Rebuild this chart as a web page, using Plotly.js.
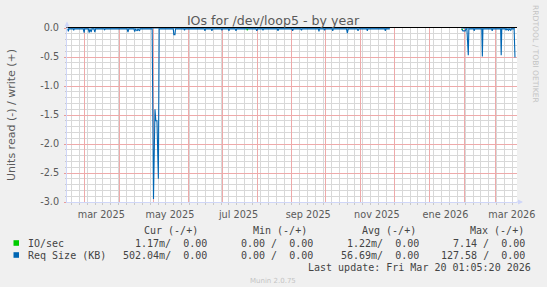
<!DOCTYPE html>
<html><head><meta charset="utf-8">
<script src="https://cdn.plot.ly/plotly-3.0.1.min.js"></script>
<style>html,body{margin:0;padding:0;background:#F0F0F0;overflow:hidden;}</style>
</head><body><div id="chart" style="width:547px;height:287px;"></div>
<script>
// ---- data ----
const rangeStart = '2025-02-13 01:05:20';
const rangeEnd   = '2026-03-20 01:05:20';

const reqDates = [
 '2025-02-13 18:00','2025-02-14 06:00','2025-02-14 18:00','2025-02-18 12:00','2025-02-19 00:00','2025-02-19 12:00',
 '2025-02-27 12:00','2025-02-28 06:00','2025-02-28 18:00','2025-03-04 00:00','2025-03-04 18:00','2025-03-05 12:00',
 '2025-03-06 12:00','2025-03-07 06:00','2025-03-09 00:00','2025-03-09 18:00','2025-03-10 12:00','2025-03-18 00:00',
 '2025-03-18 12:00','2025-03-19 00:00','2025-04-07 12:00','2025-04-08 06:00','2025-04-09 00:00','2025-04-13 12:00',
 '2025-04-14 06:00','2025-04-15 00:00','2025-04-16 12:00','2025-04-17 00:00','2025-04-18 12:00','2025-04-19 00:00',
 '2025-04-29 18:00','2025-04-30 06:00','2025-04-30 22:00','2025-05-02 06:00','2025-05-03 00:00','2025-05-04 00:00',
 '2025-05-04 18:00','2025-05-05 06:00','2025-05-06 00:00',
 '2025-05-18 12:00','2025-05-19 00:00','2025-05-20 00:00','2025-05-20 12:00','2025-05-28 00:00','2025-05-28 12:00',
 '2025-05-29 00:00','2025-06-15 00:00','2025-06-15 16:00','2025-06-16 06:00','2025-06-21 06:00','2025-06-21 20:00',
 '2025-06-22 12:00','2025-06-30 06:00','2025-06-30 18:00','2025-07-01 06:00','2025-07-06 12:00','2025-07-07 00:00',
 '2025-07-07 12:00','2025-07-12 12:00','2025-07-13 06:00','2025-07-14 00:00','2025-07-31 00:00','2025-07-31 18:00',
 '2025-08-01 12:00','2025-08-05 18:00','2025-08-06 06:00','2025-08-06 18:00','2025-08-19 00:00','2025-08-19 14:00',
 '2025-08-20 06:00','2025-09-01 00:00','2025-09-01 14:00','2025-09-02 06:00','2025-09-08 18:00','2025-09-09 12:00',
 '2025-09-10 00:00','2025-09-24 12:00','2025-09-25 00:00','2025-09-25 12:00','2025-09-29 12:00','2025-09-30 00:00',
 '2025-09-30 12:00','2025-10-06 18:00','2025-10-07 06:00','2025-10-07 18:00','2025-10-19 12:00','2025-10-20 06:00',
 '2025-10-21 00:00','2025-10-29 00:00','2025-10-29 18:00','2025-10-30 12:00','2025-11-06 12:00','2025-11-07 00:00',
 '2025-11-07 12:00','2025-11-22 12:00','2025-11-23 00:00','2025-11-23 12:00','2025-11-27 00:00',
 '2025-12-20 00:00',
 '2026-01-29 18:00','2026-01-31 00:00','2026-02-02 00:00','2026-02-02 18:00','2026-02-03 12:00','2026-02-04 06:00',
 '2026-02-04 18:00','2026-02-05 06:00','2026-02-09 12:00','2026-02-10 00:00','2026-02-10 12:00','2026-02-16 18:00',
 '2026-02-17 06:00','2026-02-17 18:00','2026-02-25 12:00','2026-02-26 00:00','2026-02-26 12:00','2026-03-05 12:00',
 '2026-03-06 00:00','2026-03-06 12:00','2026-03-09 18:00','2026-03-10 06:00','2026-03-11 00:00','2026-03-12 12:00',
 '2026-03-13 00:00','2026-03-14 12:00','2026-03-15 00:00','2026-03-17 12:00','2026-03-18 06:00'
];
const reqRead = [
 -0.015,-0.06,-0.015,-0.015,-0.04,-0.015,
 -0.015,-0.08,-0.015,-0.015,-0.08,-0.02,
 -0.07,-0.015,-0.015,-0.07,-0.015,-0.015,
 -0.03,-0.015,-0.015,-0.07,-0.015,-0.015,
 -0.06,-0.02,-0.05,-0.015,-0.05,-0.015,
 -0.015,-2.95,-2.95,-1.4,-1.6,-1.6,
 -2.6,-2.6,-0.015,
 -0.015,-0.115,-0.115,-0.015,-0.015,-0.04,
 -0.015,-0.015,-0.05,-0.015,-0.015,-0.05,
 -0.015,-0.015,-0.04,-0.015,-0.015,-0.05,
 -0.015,-0.015,-0.05,-0.015,-0.015,-0.05,
 -0.015,-0.015,-0.04,-0.015,-0.015,-0.05,
 -0.015,-0.015,-0.05,-0.015,-0.015,-0.04,
 -0.015,-0.015,-0.06,-0.015,-0.015,-0.04,
 -0.015,-0.015,-0.05,-0.015,-0.015,-0.09,
 -0.015,-0.015,-0.05,-0.015,-0.015,-0.05,
 -0.015,-0.015,-0.05,-0.015,-0.015,
 null,
 -0.015,-0.05,-0.05,-0.015,-0.015,-0.47,
 -0.47,-0.015,-0.015,-0.05,-0.015,-0.015,
 -0.49,-0.015,-0.015,-0.05,-0.015,-0.015,
 -0.47,-0.015,-0.015,-0.04,-0.015,-0.04,
 -0.015,-0.04,-0.015,-0.015,-0.51
];
// write (+) side is 0.00 throughout (per legend)
const writeDates = ['2025-02-13 18:00','2025-11-27 00:00','2025-12-20 00:00','2026-01-29 18:00','2026-03-18 06:00'];
const writeVals  = [0, 0, null, 0, 0];
const ioDates = ['2025-07-22 20:00','2025-07-23 08:00','2025-07-23 20:00','2025-10-01 00:00','2026-01-30 00:00','2026-01-30 12:00','2026-01-31 00:00'];
const ioRead  = [-0.015,-0.04,-0.015,null,-0.015,-0.03,-0.015];

const monthStarts = ['2025-03-01','2025-04-01','2025-05-01','2025-06-01','2025-07-01','2025-08-01','2025-09-01',
  '2025-10-01','2025-11-01','2025-12-01','2026-01-01','2026-02-01','2026-03-01'];
const labelDates = ['2025-03-15 12:00','2025-05-15 12:00','2025-07-15 12:00','2025-09-15 12:00','2025-11-15 12:00','2026-01-15 12:00','2026-03-15 12:00'];
const monthLabels = ['mar 2025','may 2025','jul 2025','sep 2025','nov 2025','ene 2026','mar 2026'];
const yTicks = [0,-0.5,-1,-1.5,-2,-2.5,-3];
const yTickText = ['0.0','-0.5','-1.0','-1.5','-2.0','-2.5','-3.0'];

const seriesNames = ['IO/sec','Req Size (KB)'];
const seriesColors = ['#00CC00','#0066B3'];
const statHeaders = ['Cur (-/+)','Min (-/+)','Avg (-/+)','Max (-/+)'];
const statIO  = ['1.17m/  0.00','0.00 /  0.00','1.22m/  0.00','7.14 /  0.00'];
const statReq = ['502.04m/  0.00','0.00 /  0.00','56.69m/  0.00','127.58 /  0.00'];
const lastUpdate = 'Last update: Fri Mar 20 01:05:20 2026';

// ---- layout helpers (pixel -> paper) ----
const L = 67, T = 28, W = 450, H = 174, FW = 547, FH = 287;
const px = x => (x - L) / W;
const py = y => (T + H - y) / H;
const nb = s => s.replace(/ /g, '\u00a0');
const FONT = 'DejaVu Sans', MONO = 'DejaVu Sans Mono';
const fontCol = '#5a5a5a';
const legCol = '#444444';
const gridMinor = '#d8d8d8';
const gridMajor = '#eeaaaa';
const axisCol = '#CFD6F8';

const traces = [
  {x: ioDates, y: ioRead, xaxis: 'x2', yaxis: 'y', type: 'scatter', mode: 'lines',
   line: {color: seriesColors[0], width: 1}, connectgaps: false, showlegend: false, hoverinfo: 'skip'},
  {x: writeDates, y: writeVals, xaxis: 'x3', yaxis: 'y', type: 'scatter', mode: 'lines',
   line: {color: seriesColors[1], width: 1}, connectgaps: false, showlegend: false, hoverinfo: 'skip'},
  {x: reqDates, y: reqRead, xaxis: 'x', yaxis: 'y', type: 'scatter', mode: 'lines',
   line: {color: seriesColors[1], width: 1.1}, connectgaps: false, showlegend: false, hoverinfo: 'skip'}
];

const ann = [];
ann.push({xref:'paper', yref:'paper', x: px(11), y: py(115), text: 'Units read (-) / write (+)', textangle: -90,
  showarrow:false, xanchor:'center', yanchor:'middle', font:{family:FONT, size:11, color:fontCol}});
ann.push({xref:'paper', yref:'paper', x: px(536), y: py(54), text: 'RRDTOOL / TOBI OETIKER', textangle: 90,
  showarrow:false, xanchor:'center', yanchor:'middle', font:{family:FONT, size:7.6, color:'#c4c4c4'}});
const headerEnds = [199.5, 309, 417.5, 526];
const valueEnds = [209, 315, 421, 526.7];
statHeaders.forEach((h,i) => ann.push({xref:'paper', yref:'paper', x: px(headerEnds[i]), y: py(230), text: nb(h),
  showarrow:false, xanchor:'right', yanchor:'middle', font:{family:MONO, size:10, color:legCol}}));
const rowY = [243, 255];
[statIO, statReq].forEach((row, r) => {
  ann.push({xref:'paper', yref:'paper', x: px(26), y: py(rowY[r]), text: nb(seriesNames[r]),
    showarrow:false, xanchor:'left', yanchor:'middle', font:{family:MONO, size:10, color:legCol}});
  row.forEach((v,i) => ann.push({xref:'paper', yref:'paper', x: px(valueEnds[i]), y: py(rowY[r]), text: nb(v),
    showarrow:false, xanchor:'right', yanchor:'middle', font:{family:MONO, size:10, color:legCol}}));
});
ann.push({xref:'paper', yref:'paper', x: px(532.6), y: py(267), text: nb(lastUpdate),
  showarrow:false, xanchor:'right', yanchor:'middle', font:{family:MONO, size:10, color:legCol}});
ann.push({xref:'paper', yref:'paper', x: px(273), y: py(281), text: 'Munin 2.0.75',
  showarrow:false, xanchor:'center', yanchor:'middle', font:{family:FONT, size:7, color:'#c4c4c4'}});
// axis arrows
ann.push({xref:'paper', yref:'paper', x: px(523), y: 0, ax: -8, ay: 0, text:'', showarrow:true,
  arrowhead:2, arrowsize:1, arrowwidth:1, arrowcolor:axisCol, standoff:0});
ann.push({xref:'paper', yref:'paper', x: 0, y: py(21.5), ax: 0, ay: 8, text:'', showarrow:true,
  arrowhead:2, arrowsize:1, arrowwidth:1, arrowcolor:axisCol, standoff:0});

const shapes = seriesColors.map((c, r) => ({type:'rect', xref:'paper', yref:'paper',
  x0: px(13.5), x1: px(19), y0: py(rowY[r] - 2.8), y1: py(rowY[r] + 2.8), fillcolor: c, line:{width:0}}));

const layout = {
  width: FW, height: FH,
  margin: {l: L, r: FW - L - W, t: T, b: FH - T - H, pad: 0},
  paper_bgcolor: '#F0F0F0', plot_bgcolor: '#FFFFFF',
  title: {text: 'IOs for /dev/loop5 - by year', x: 273 / FW, xanchor: 'center', xref: 'container',
          y: 1 - 20.2 / FH, yanchor: 'middle', yref: 'container',
          font: {family: FONT, size: 12.6, color: fontCol}},
  showlegend: false,
  // weekly minor grid (drawn first)
  xaxis: {type: 'date', range: [rangeStart, rangeEnd], tickmode: 'linear', tick0: '2025-02-17', dtick: 7 * 86400000,
    showticklabels: false, showgrid: true, gridcolor: gridMinor, gridwidth: 1,
    ticks: 'outside', ticklen: 2, tickcolor: '#c8c8c8', showline: true, linecolor: axisCol, linewidth: 1,
    zeroline: false, fixedrange: true},
  // month labels
  xaxis2: {type: 'date', range: [rangeStart, rangeEnd], overlaying: 'x', anchor: 'y', side: 'bottom',
    tickmode: 'array', tickvals: labelDates, ticktext: monthLabels, showgrid: false, showline: false,
    ticks: '', zeroline: false, ticklabelstandoff: 5,
    tickfont: {family: FONT, size: 9.7, color: fontCol}},
  // monthly major grid on top + black top rule
  xaxis3: {type: 'date', range: [rangeStart, rangeEnd], overlaying: 'x', anchor: 'y', side: 'top',
    tickmode: 'array', tickvals: monthStarts,
    showticklabels: false, showgrid: true, gridcolor: gridMajor, gridwidth: 1, ticks: '', zeroline: false,
    showline: true, linecolor: '#000000', linewidth: 1, layer: 'above traces'},
  yaxis: {range: [-3, 0], tickmode: 'array', tickvals: yTicks, ticktext: yTickText,
    showgrid: true, gridcolor: gridMajor, gridwidth: 1,
    ticks: 'outside', ticklen: 2, tickcolor: '#e89a9a', showline: true, linecolor: axisCol, linewidth: 1,
    zeroline: false, ticklabelstandoff: 3, fixedrange: true,
    tickfont: {family: FONT, size: 9.7, color: fontCol},
    minor: {tickmode: 'linear', dtick: 0.1, tick0: 0, showgrid: true, gridcolor: gridMinor, gridwidth: 1,
      ticks: 'outside', ticklen: 1, tickcolor: '#c8c8c8'}},
  annotations: ann,
  shapes: shapes
};

Plotly.newPlot('chart', traces, layout, {staticPlot: true, displayModeBar: false});
</script></body></html>
